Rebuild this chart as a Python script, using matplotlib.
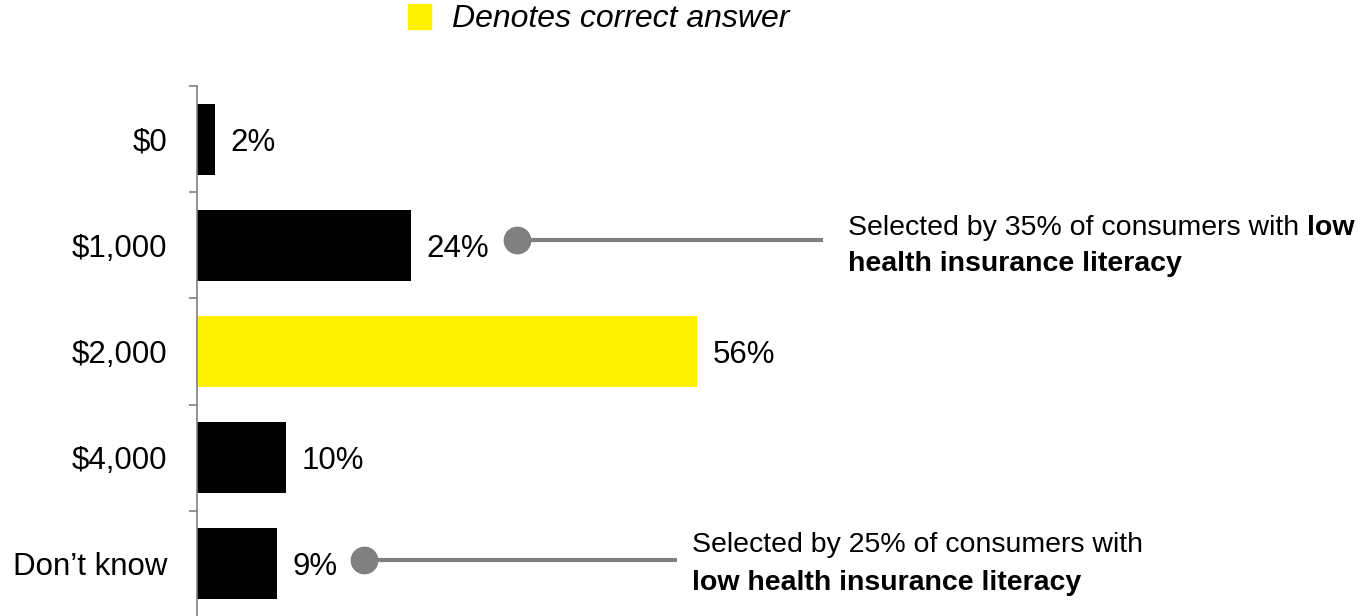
import matplotlib.pyplot as plt
from matplotlib.patches import Rectangle

plt.rcParams['font.family'] = ['Liberation Sans', 'DejaVu Sans']

# dati
categorie = ["$0", "$1,000", "$2,000", "$4,000", "Don\u2019t know"]
percentuali = [2, 24, 56, 10, 9]
risposta_giusta = "$2,000"
etichette = ["2%", "24%", "56%", "10%", "9%"]

giallo = "#FFF200"
grigio = "#808080"

fig = plt.figure(figsize=(13.68, 6.16), dpi=100)
ax = fig.add_axes([197 / 1368, -0.0016, 1171 / 1368, 0.862])

y = list(range(len(categorie)))
colori = [giallo if c == risposta_giusta else "black" for c in categorie]
ax.barh(y, percentuali, height=0.67, color=colori, align="center")

ax.set_xlim(0, 1171 / 8.93)
ax.set_ylim(4.5, -0.5)

# etichette valori
for yi, v, lab in zip(y, percentuali, etichette):
    ax.annotate(lab, xy=(v, yi), xytext=(11, 0), textcoords="offset points",
                va="center_baseline", ha="left", fontsize=22.5)

# assi
for s in ["top", "right", "bottom"]:
    ax.spines[s].set_visible(False)
ax.spines["left"].set_color(grigio)
ax.spines["left"].set_linewidth(1.2)
ax.set_xticks([])
ax.set_yticks(y)
ax.set_yticklabels(categorie, fontsize=22.5)
ax.tick_params(axis="y", which="major", length=0, pad=21.5)
ax.set_yticks([i - 0.5 for i in range(len(categorie) + 1)], minor=True)
ax.tick_params(axis="y", which="minor", length=6, width=1.2, color=grigio)

# callout $1,000
ax.plot([35.8, 70.1], [0.95, 0.95], color=grigio, lw=3, solid_capstyle="butt")
ax.plot([35.8], [0.95], "o", color=grigio, markersize=19)
t1 = ax.text(72.9, 0.837, "Selected by 35% of consumers with ", fontsize=20.5,
             va="center", ha="left")
ax.annotate("low", xy=(1, 0), xycoords=t1, va="bottom", ha="left",
            fontsize=20.5, fontweight="bold")
ax.text(72.9, 1.176, "health insurance literacy", fontsize=20.5,
        fontweight="bold", va="center", ha="left")

# callout Don't know
ax.plot([18.7, 53.75], [3.96, 3.96], color=grigio, lw=3, solid_capstyle="butt")
ax.plot([18.7], [3.96], "o", color=grigio, markersize=19)
ax.text(55.4, 3.82, "Selected by 25% of consumers with", fontsize=20.5,
        va="center", ha="left")
ax.text(55.4, 4.18, "low health insurance literacy", fontsize=20.5,
        fontweight="bold", va="center", ha="left")

# legenda
fig.patches.append(Rectangle((408 / 1368, 1 - 29 / 616), 23 / 1368, 25 / 616,
                             transform=fig.transFigure, color=giallo))
fig.text(452 / 1368, 1 - 19 / 616, "Denotes correct answer", fontsize=23,
         style="italic", va="center", ha="left")

plt.savefig("out.png", dpi=100)
